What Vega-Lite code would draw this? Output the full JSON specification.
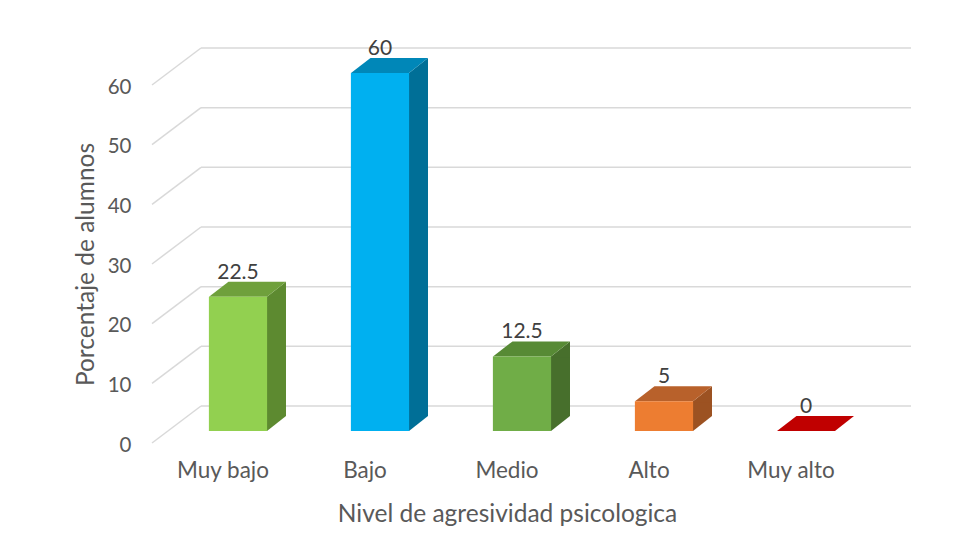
{
  "$schema": "https://vega.github.io/schema/vega-lite/v6.json",
  "width": 710,
  "height": 358,
  "autosize": {"type": "none"},
  "padding": {"left": 152, "top": 85, "right": 91, "bottom": 114},
  "background": "white",
  "config": {"view": {"stroke": null}, "font": "Lato"},
  "datasets": {
    "bars": [
      {"nivel": "Muy bajo", "pct": 22.5},
      {"nivel": "Bajo", "pct": 60},
      {"nivel": "Medio", "pct": 12.5},
      {"nivel": "Alto", "pct": 5},
      {"nivel": "Muy alto", "pct": 0}
    ],
    "grid": [{"v": 0}, {"v": 10}, {"v": 20}, {"v": 30}, {"v": 40}, {"v": 50}, {"v": 60}]
  },
  "resolve": {"scale": {"x": "independent", "color": "independent"}},
  "layer": [
    {
      "data": {"name": "grid"},
      "mark": {"type": "rule", "color": "#D9D9D9", "strokeWidth": 1.5, "xOffset": 49, "x2Offset": 49, "yOffset": -37, "y2Offset": -37},
      "encoding": {
        "x": {"datum": 0, "type": "quantitative", "scale": {"domain": [0, 1]}, "axis": null},
        "x2": {"datum": 1},
        "y": {
          "field": "v", "type": "quantitative",
          "scale": {"domain": [0, 60], "nice": false},
          "axis": {
            "values": [0, 10, 20, 30, 40, 50, 60],
            "domain": false, "ticks": false, "grid": false,
            "labelPadding": 21, "labelFontSize": 20.5, "labelColor": "#595959", "labelOffset": 2,
            "title": "Porcentaje de alumnos", "titleFontSize": 24.5, "titleFontWeight": "normal",
            "titleColor": "#595959", "titlePadding": 9
          }
        },
        "y2": {"field": "v"}
      }
    },
    {
      "data": {"name": "grid"},
      "mark": {"type": "rule", "color": "#D9D9D9", "strokeWidth": 1.5, "x2Offset": 49, "y2Offset": -37},
      "encoding": {
        "x": {"datum": 0, "type": "quantitative", "scale": {"domain": [0, 1]}, "axis": null},
        "x2": {"datum": 0},
        "y": {"field": "v", "type": "quantitative"},
        "y2": {"field": "v"}
      }
    },
    {
      "data": {"name": "bars"},
      "transform": [{"filter": "datum.pct > 0"}],
      "mark": {"type": "bar", "width": {"band": 0.1338}, "xOffset": 53.5, "x2Offset": 53.5, "yOffset": -12, "y2Offset": -27},
      "encoding": {
        "x": {"field": "nivel", "type": "nominal", "sort": null, "scale": {"domain": ["Muy bajo", "Bajo", "Medio", "Alto", "Muy alto"], "paddingInner": 0, "paddingOuter": 0}, "axis": null},
        "y": {"field": "pct", "type": "quantitative"},
        "y2": {"datum": 0},
        "color": {"field": "nivel", "type": "nominal", "scale": {"domain": ["Muy bajo", "Bajo", "Medio", "Alto", "Muy alto"], "range": ["#5D8A30", "#006F97", "#476F2C", "#9C5222", "#8C0000"]}, "legend": null}
      }
    },
    {
      "data": {"name": "bars"},
      "transform": [{"filter": "datum.pct > 0"}],
      "mark": {"type": "point", "filled": true, "opacity": 1, "strokeWidth": 0, "size": 361, "shape": "M-1,0.789L1,-0.789L1,0.9L-1,0.9Z", "xOffset": 53.5, "yOffset": -19.5},
      "encoding": {
        "x": {"field": "nivel", "type": "nominal", "sort": null, "scale": {"domain": ["Muy bajo", "Bajo", "Medio", "Alto", "Muy alto"], "paddingInner": 0, "paddingOuter": 0}, "axis": null},
        "y": {"field": "pct", "type": "quantitative"},
        "color": {"field": "nivel", "type": "nominal", "scale": {"domain": ["Muy bajo", "Bajo", "Medio", "Alto", "Muy alto"], "range": ["#5D8A30", "#006F97", "#476F2C", "#9C5222", "#8C0000"]}, "legend": null}
      }
    },
    {
      "data": {"name": "bars"},
      "transform": [{"filter": "datum.pct > 0"}],
      "mark": {"type": "point", "filled": true, "opacity": 1, "strokeWidth": 0, "size": 361, "shape": "M-1,-0.9L1,-0.9L1,-0.789L-1,0.789Z", "xOffset": 53.5, "yOffset": -19.5},
      "encoding": {
        "x": {"field": "nivel", "type": "nominal", "sort": null, "scale": {"domain": ["Muy bajo", "Bajo", "Medio", "Alto", "Muy alto"], "paddingInner": 0, "paddingOuter": 0}, "axis": null},
        "y": {"datum": 0, "type": "quantitative"},
        "color": {"field": "nivel", "type": "nominal", "scale": {"domain": ["Muy bajo", "Bajo", "Medio", "Alto", "Muy alto"], "range": ["#5D8A30", "#006F97", "#476F2C", "#9C5222", "#8C0000"]}, "legend": null}
      }
    },
    {
      "data": {"name": "bars"},
      "mark": {"type": "point", "filled": true, "opacity": 1, "strokeWidth": 0, "size": 5929, "shape": "M-1,0.195L0.506,0.195L1,-0.195L-0.494,-0.195Z", "xOffset": 24.5, "yOffset": -19.5},
      "encoding": {
        "x": {"field": "nivel", "type": "nominal", "sort": null, "scale": {"domain": ["Muy bajo", "Bajo", "Medio", "Alto", "Muy alto"], "paddingInner": 0, "paddingOuter": 0}, "axis": null},
        "y": {"field": "pct", "type": "quantitative"},
        "color": {"field": "nivel", "type": "nominal", "scale": {"domain": ["Muy bajo", "Bajo", "Medio", "Alto", "Muy alto"], "range": ["#6FA03C", "#0087B8", "#578A35", "#B8612B", "#C00000"]}, "legend": null}
      }
    },
    {
      "data": {"name": "bars"},
      "transform": [{"filter": "datum.pct > 0"}],
      "mark": {"type": "bar", "width": {"band": 0.41}, "xOffset": 15, "x2Offset": 15, "yOffset": -12, "y2Offset": -12},
      "encoding": {
        "x": {
          "field": "nivel", "type": "nominal", "sort": null,
          "scale": {"domain": ["Muy bajo", "Bajo", "Medio", "Alto", "Muy alto"], "paddingInner": 0, "paddingOuter": 0},
          "axis": {
            "labelAngle": 0, "domain": false, "ticks": false, "grid": false,
            "labelPadding": 16, "labelFontSize": 22.5, "labelColor": "#595959",
            "title": "Nivel de agresividad psicologica", "titleFontSize": 24.5, "titleFontWeight": "normal",
            "titleColor": "#595959", "titlePadding": 21
          }
        },
        "y": {"field": "pct", "type": "quantitative"},
        "y2": {"datum": 0},
        "color": {"field": "nivel", "type": "nominal", "scale": {"domain": ["Muy bajo", "Bajo", "Medio", "Alto", "Muy alto"], "range": ["#92D050", "#00B0F0", "#70AD47", "#ED7D31", "#C00000"]}, "legend": null}
      }
    },
    {
      "data": {"name": "bars"},
      "mark": {"type": "text", "fontSize": 21, "color": "#404040", "baseline": "alphabetic", "align": "center", "xOffset": 15, "yOffset": -30},
      "encoding": {
        "x": {"field": "nivel", "type": "nominal", "sort": null, "scale": {"domain": ["Muy bajo", "Bajo", "Medio", "Alto", "Muy alto"], "paddingInner": 0, "paddingOuter": 0}, "axis": null},
        "y": {"field": "pct", "type": "quantitative"},
        "text": {"field": "pct", "type": "quantitative"}
      }
    }
  ]
}
